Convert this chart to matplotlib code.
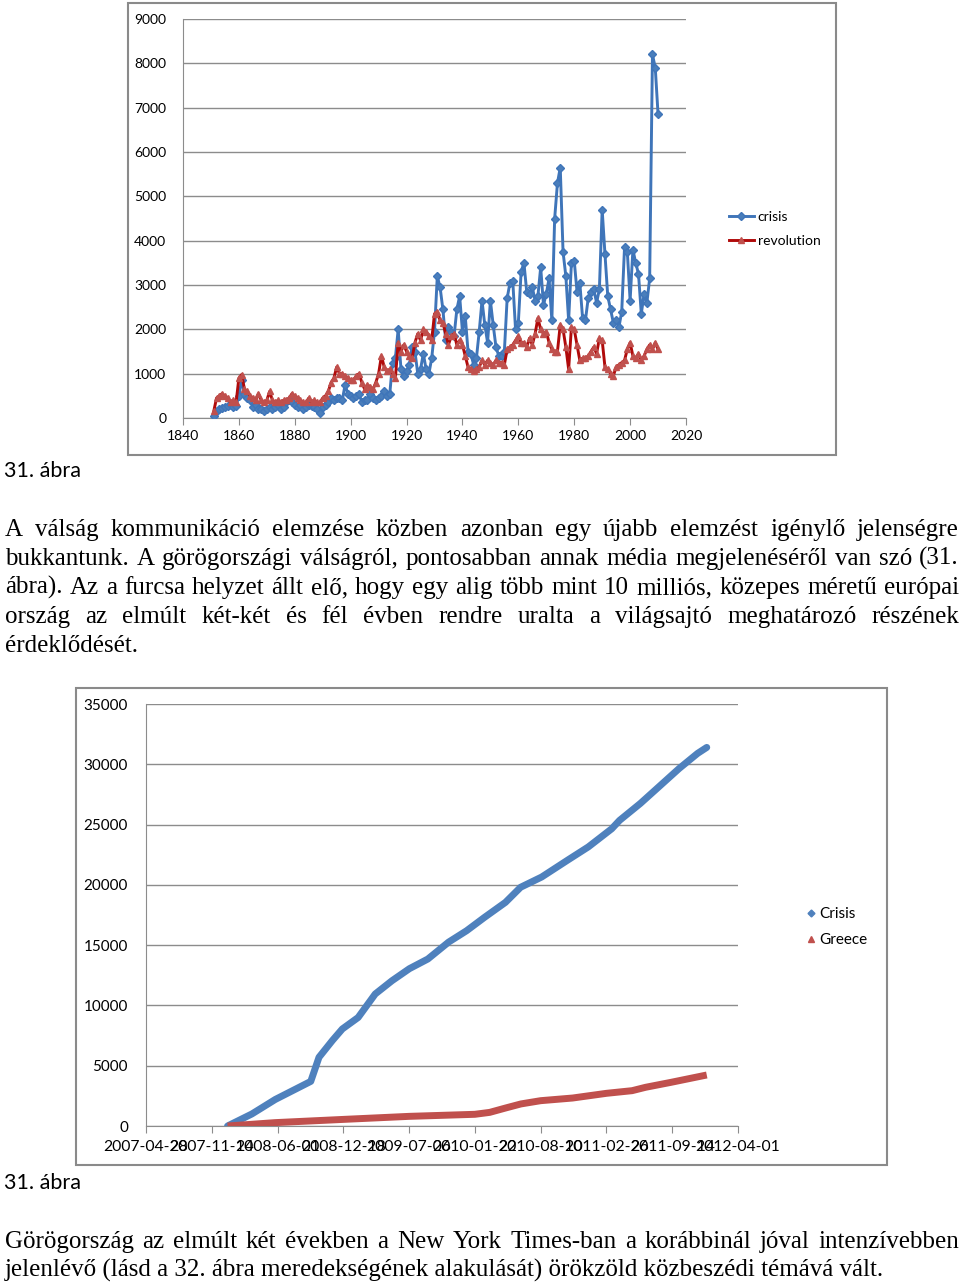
import numpy as np
import pandas as pd
import matplotlib
matplotlib.use("Agg")
import matplotlib.pyplot as plt
import matplotlib.dates as mdates
from matplotlib.lines import Line2D
from matplotlib.patches import Rectangle

W, H = 960, 1284

# --- chart 1: yearly counts ---
years = list(range(1851, 2011))
crisis = [
    50, 150, 200, 220, 250, 280, 300, 250, 270, 500,
    850, 550, 450, 400, 250, 300, 200, 200, 150, 200,
    250, 200, 250, 300, 200, 250, 350, 400, 350, 300,
    250, 300, 200, 250, 300, 280, 250, 200, 120, 250,
    300, 350, 450, 400, 450, 450, 400, 750, 550, 500,
    450, 500, 550, 350, 400, 400, 550, 450, 400, 450,
    500, 600, 500, 550, 1250, 1350, 2000, 1100, 950, 1050,
    1200, 1600, 1500, 1000, 1100, 1450, 1100, 1000, 1350, 1950,
    3200, 2950, 2450, 1750, 2050, 1950, 1850, 2450, 2750, 1950,
    2300, 1500, 1450, 1200, 1350, 1950, 2650, 2100, 1700, 2650,
    2100, 1600, 1400, 1400, 1500, 2700, 3050, 3100, 2000, 2150,
    3300, 3500, 2850, 2800, 2950, 2650, 2750, 3400, 2550, 2800,
    3150, 2200, 4500, 5300, 5650, 3750, 3200, 2200, 3500, 3550,
    2850, 3050, 2250, 2200, 2700, 2850, 2900, 2600, 2900, 4700,
    3700, 2750, 2450, 2150, 2200, 2050, 2400, 3850, 3750, 2650,
    3800, 3500, 3250, 2350, 2800, 2600, 3150, 8200, 7900, 6850,
]
revolution = [
    150, 450, 500, 550, 500, 450, 350, 400, 350, 900,
    980, 650, 600, 500, 450, 400, 550, 400, 350, 400,
    600, 400, 350, 400, 350, 400, 400, 450, 550, 500,
    450, 400, 350, 350, 450, 350, 400, 350, 350, 450,
    500, 600, 800, 900, 1150, 1000, 1000, 950, 900, 850,
    850, 950, 1000, 800, 650, 750, 700, 650, 800, 1000,
    1400, 1150, 1050, 1100, 1000, 900, 1700, 1500, 1650, 1500,
    1400, 1350, 1700, 1900, 1750, 2000, 1950, 1850, 1750, 2350,
    2400, 2200, 2150, 1900, 1650, 1850, 1900, 1650, 1750, 1650,
    1400, 1150, 1100, 1050, 1100, 1150, 1300, 1200, 1300, 1250,
    1200, 1300, 1250, 1250, 1200, 1550, 1600, 1650, 1750, 1850,
    1700, 1700, 1600, 1800, 1650, 1900, 2250, 2000, 1900, 1950,
    1700, 1550, 1500, 1500, 2100, 2000, 1600, 1100, 2050, 2000,
    1650, 1300, 1350, 1350, 1400, 1500, 1600, 1450, 1800, 1750,
    1150, 1100, 1000, 950, 1150, 1200, 1250, 1300, 1550, 1700,
    1400, 1350, 1450, 1300, 1400, 1550, 1650, 1550, 1700, 1550,
]

# --- chart 2: cumulative NYT counts ---
nyt_crisis_dates = [
    "2008-01-01", "2008-03-15", "2008-05-25", "2008-09-10", "2008-10-05",
    "2008-11-15", "2008-12-15", "2009-02-01", "2009-03-25", "2009-05-15",
    "2009-07-07", "2009-09-01", "2009-11-03", "2009-12-28", "2010-02-20",
    "2010-04-25", "2010-06-10", "2010-08-13", "2010-10-31", "2011-01-02",
    "2011-03-14", "2011-04-07", "2011-06-09", "2011-08-03", "2011-10-05",
    "2011-11-30", "2011-12-28",
]
nyt_crisis = [
    0, 1000, 2200, 3700, 5700,
    7100, 8050, 9000, 10950, 12050,
    13050, 13850, 15250, 16200, 17300,
    18550, 19800, 20650, 22050, 23150,
    24650, 25350, 26750, 28100, 29650,
    30900, 31400,
]
nyt_greece_dates = [
    "2008-01-01", "2008-05-25", "2008-12-20", "2009-07-06", "2010-01-22",
    "2010-03-08", "2010-04-25", "2010-06-11", "2010-08-10", "2010-11-15",
    "2011-02-26", "2011-05-15", "2011-06-25", "2011-09-10", "2011-12-28",
]
nyt_greece = [
    0, 280, 550, 800, 970,
    1130, 1490, 1830, 2100, 2320,
    2710, 2930, 3210, 3620, 4230,
]
x2_ticks = ["2007-04-28", "2007-11-14", "2008-06-01", "2008-12-18", "2009-07-06",
            "2010-01-22", "2010-08-10", "2011-02-26", "2011-09-14", "2012-04-01"]

caption = "31. ábra"
para1 = [
    "A válság kommunikáció elemzése közben azonban egy újabb elemzést igénylő jelenségre",
    "bukkantunk. A görögországi válságról, pontosabban annak média megjelenéséről van szó (31.",
    "ábra). Az a furcsa helyzet állt elő, hogy egy alig több mint 10 milliós, közepes méretű európai",
    "ország az elmúlt két-két és fél évben rendre uralta a világsajtó meghatározó részének",
    "érdeklődését.",
]
para2 = [
    "Görögország az elmúlt két években a New York Times-ban a korábbinál jóval intenzívebben",
    "jelenlévő (lásd a 32. ábra meredekségének alakulását) örökzöld közbeszédi témává vált.",
]


def fx(x):
    return x / W


def fy(y):
    return 1 - y / H


fig = plt.figure(figsize=(W / 100, H / 100), dpi=100)
fig.patch.set_facecolor("white")

sans = "Lato"
grid_col = "#8c8c8c"

# frames around the charts
fig.add_artist(Rectangle((fx(128), fy(455)), 708 / W, 452 / H, transform=fig.transFigure,
                         fill=False, ec="#8a8a8a", lw=1.5))
fig.add_artist(Rectangle((fx(76), fy(1165)), 811 / W, 477 / H, transform=fig.transFigure,
                         fill=False, ec="#8a8a8a", lw=1.5))

# ---------- chart 1 ----------
ax1 = fig.add_axes([fx(183), fy(418), 503 / W, 399 / H])
ax1.plot(years, crisis, color="#3f75b9", lw=2.1, marker="D", ms=4,
         mfc="#4a7ebb", mec="#3f75b9", label="crisis", zorder=3)
ax1.plot(years, revolution, color="#b00a0a", lw=2.1, marker="^", ms=4.5,
         mfc="#c0504d", mec="#c0504d", label="revolution", zorder=3)
ax1.set_xlim(1840, 2020)
ax1.set_ylim(0, 9000)
ax1.set_xticks(range(1840, 2021, 20))
ax1.set_yticks(range(0, 9001, 1000))
ax1.grid(axis="y", color=grid_col, lw=1)
ax1.set_axisbelow(True)
for s in ["top", "right"]:
    ax1.spines[s].set_visible(False)
for s in ["left", "bottom"]:
    ax1.spines[s].set_color(grid_col)
ax1.tick_params(axis="x", length=5, color=grid_col, labelsize=10, pad=4)
ax1.tick_params(axis="y", length=0, labelsize=10, pad=12)
for lab in ax1.get_xticklabels() + ax1.get_yticklabels():
    lab.set_fontfamily(sans)
ax1.legend(loc="center left", bbox_to_anchor=(fx(716), fy(229)), bbox_transform=fig.transFigure,
           frameon=False, prop={"family": sans, "size": 10}, handlelength=1.8,
           handletextpad=0.3, labelspacing=0.85)

# ---------- chart 2 ----------
ax2 = fig.add_axes([fx(146), fy(1126), 592 / W, 422 / H])
cd = mdates.date2num(pd.to_datetime(nyt_crisis_dates))
gd = mdates.date2num(pd.to_datetime(nyt_greece_dates))
tk = mdates.date2num(pd.to_datetime(x2_ticks))
ax2.plot(cd, nyt_crisis, color="#4f81bd", lw=5, solid_capstyle="round",
         solid_joinstyle="round", zorder=3)
ax2.plot(gd, nyt_greece, color="#c0504d", lw=5, solid_capstyle="butt",
         solid_joinstyle="round", zorder=3)
ax2.set_xlim(tk[0], tk[-1])
ax2.set_ylim(0, 35000)
ax2.set_xticks(tk)
ax2.set_xticklabels(x2_ticks)
ax2.set_yticks(range(0, 35001, 5000))
ax2.grid(axis="y", color=grid_col, lw=1)
ax2.set_axisbelow(True)
for s in ["top", "right"]:
    ax2.spines[s].set_visible(False)
for s in ["left", "bottom"]:
    ax2.spines[s].set_color(grid_col)
ax2.tick_params(axis="x", length=5, color=grid_col, labelsize=11.3, pad=5)
ax2.tick_params(axis="y", length=0, labelsize=11, pad=13)
for lab in ax2.get_xticklabels() + ax2.get_yticklabels():
    lab.set_fontfamily(sans)
handles2 = [
    Line2D([], [], ls="none", marker="D", ms=3.5, color="#4f81bd"),
    Line2D([], [], ls="none", marker="^", ms=4, color="#c0504d"),
]
ax2.legend(handles2, ["Crisis", "Greece"], loc="center left",
           bbox_to_anchor=(fx(793), fy(927)), bbox_transform=fig.transFigure,
           frameon=False, prop={"family": sans, "size": 11}, handlelength=0.6,
           handletextpad=0.25, labelspacing=0.8, numpoints=1)

# ---------- text ----------
fig.text(fx(4), fy(477), caption, fontfamily=sans, fontsize=15.5, va="baseline")
fig.text(fx(4), fy(1189), caption, fontfamily=sans, fontsize=15.5, va="baseline")

body = dict(fontfamily="Liberation Serif", fontsize=18, va="baseline", ha="left")
renderer = fig.canvas.get_renderer()


def paragraph(lines, base_y, left=5, right=959, step=29):
    for i, line in enumerate(lines):
        y = fy(base_y + i * step)
        if i == len(lines) - 1:
            fig.text(fx(left), y, line, **body)
            continue
        words = line.split(" ")
        arts = [fig.text(0, y, w, **body) for w in words]
        widths = [a.get_window_extent(renderer).width for a in arts]
        gap = (right - left - sum(widths)) / (len(words) - 1)
        x = left
        for a, w in zip(arts, widths):
            a.set_x(fx(x))
            x += w + gap


paragraph(para1, 536)
paragraph(para2, 1248)

fig.savefig("out.png", dpi=100)
